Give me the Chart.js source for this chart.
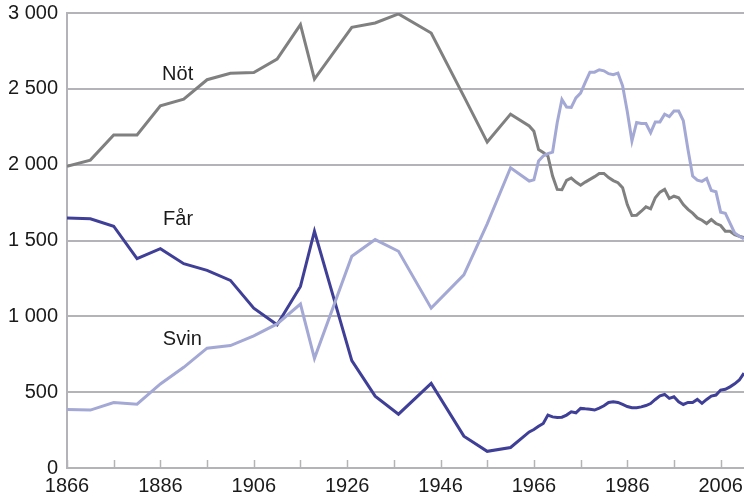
<!DOCTYPE html>
<html>
<head>
<meta charset="utf-8">
<script src="https://cdn.jsdelivr.net/npm/chart.js@4/dist/chart.umd.min.js"></script>
<style>
  html, body { margin: 0; padding: 0; background: #fff; }
</style>
</head>
<body>
<canvas id="chart" width="744" height="499"></canvas>
<script>
// Antal djur (tusental) – år
const years = [
  1866, 1871, 1876, 1881, 1886, 1891, 1896, 1901, 1906, 1911,
  1916, 1919, 1927, 1932, 1937, 1944, 1951, 1956, 1961, 1965,
  1966, 1967, 1968, 1969, 1970, 1971, 1972, 1973, 1974, 1975,
  1976, 1977, 1978, 1979, 1980, 1981, 1982, 1983, 1984, 1985,
  1986, 1987, 1988, 1989, 1990, 1991, 1992, 1993, 1994, 1995,
  1996, 1997, 1998, 1999, 2000, 2001, 2002, 2003, 2004, 2005,
  2006, 2007, 2008, 2009, 2010, 2011
];

const not = [
  1990, 2030, 2196, 2196, 2388, 2432, 2560, 2602, 2608, 2696,
  2923, 2564, 2906, 2934, 2994, 2868, 2450, 2149, 2333, 2255,
  2220, 2100, 2080, 2057, 1925, 1837, 1835, 1896, 1912, 1885,
  1865, 1885, 1903, 1921, 1942, 1942, 1915, 1895, 1881, 1848,
  1737, 1665, 1667, 1693, 1722, 1709, 1782, 1819, 1837, 1777,
  1792, 1782, 1737, 1705, 1680, 1649, 1634, 1612, 1638, 1612,
  1599, 1561, 1561, 1539, 1528, 1520
];

const far = [
  1649, 1643, 1594, 1380, 1446, 1347, 1303, 1237, 1054, 944,
  1197, 1561, 708, 474, 355, 558, 210, 110, 135, 238,
  254, 275, 294, 349, 337, 333, 335, 349, 370, 364,
  393, 390, 388, 382, 395, 410, 432, 437, 432, 419,
  405, 397, 398, 403, 412, 425, 452, 476, 485, 459,
  470, 437, 419, 432, 432, 452, 426, 452, 474, 481,
  514, 519, 535, 555, 580, 625
];

const svin = [
  386, 382, 432, 421, 554, 664, 790, 807, 871, 950,
  1081, 723, 1396, 1506, 1429, 1054, 1274, 1610, 1980, 1892,
  1900, 2024, 2057, 2073, 2083, 2278, 2430, 2380, 2378, 2440,
  2472, 2542, 2610, 2610, 2626, 2619, 2600, 2593, 2604, 2520,
  2350, 2156, 2278, 2271, 2271, 2211, 2282, 2282, 2333, 2317,
  2354, 2354, 2290, 2100, 1925, 1898, 1890, 1909, 1830, 1821,
  1687, 1680, 1615, 1550, 1528, 1511
];

// skalstreck var tionde år, etikett var tjugonde
const xTickYears = [1866, 1876, 1886, 1896, 1906, 1916, 1926, 1936, 1946, 1956, 1966, 1976, 1986, 1996, 2006];
const xLabelYears = [1866, 1886, 1906, 1926, 1946, 1966, 1986, 2006];

const AXIS = '#b4b4b8';
const FONT = '"Liberation Sans", Arial, sans-serif';

const toPoints = vals => vals.map((v, i) => ({ x: years[i], y: v }));

const fmt = v => v >= 1000
  ? Math.floor(v / 1000) + ' ' + String(v % 1000).padStart(3, '0')
  : String(v);

// uppåtriktade skalstreck och serienamn
const decor = {
  id: 'decor',
  afterDatasetsDraw(chart) {
    const { ctx, scales: { x, y } } = chart;
    ctx.save();
    ctx.strokeStyle = AXIS;
    ctx.lineWidth = 1.5;
    xTickYears.forEach(v => {
      const px = Math.round(x.getPixelForValue(v)) + 0.5;
      ctx.beginPath();
      ctx.moveTo(px, y.bottom);
      ctx.lineTo(px, y.bottom - 8);
      ctx.stroke();
    });
    ctx.fillStyle = '#1a1a1a';
    ctx.font = '20px ' + FONT;
    ctx.textAlign = 'center';
    ctx.textBaseline = 'middle';
    const names = [['Nöt', 1889.7, 2597], ['Får', 1889.8, 1641], ['Svin', 1890.7, 847]];
    names.forEach(([t, yr, val]) => {
      ctx.fillText(t, x.getPixelForValue(yr), y.getPixelForValue(val));
    });
    ctx.restore();
  }
};

const line = (label, vals, color) => ({
  label,
  data: toPoints(vals),
  borderColor: color,
  backgroundColor: color,
  borderWidth: 3,
  pointRadius: 0,
  tension: 0,
  fill: false,
});

new Chart(document.getElementById('chart'), {
  type: 'line',
  data: {
    datasets: [
      line('Svin', svin, '#a4a8d4'),
      line('Nöt', not, '#808080'),
      line('Får', far, '#3f3f98'),
    ],
  },
  options: {
    responsive: false,
    animation: false,
    layout: { padding: { top: 13, right: 0, left: 0, bottom: 0 } },
    plugins: {
      legend: { display: false },
      tooltip: { enabled: false },
    },
    scales: {
      x: {
        type: 'linear',
        min: 1866,
        max: 2011,
        afterFit(s) {
          s.height = 31;
          s.paddingLeft = 0;
          s.paddingRight = 0;
        },
        afterBuildTicks(s) { s.ticks = xLabelYears.map(v => ({ value: v })); },
        grid: { display: false, drawTicks: false },
        border: { display: true, color: AXIS, width: 2 },
        ticks: {
          autoSkip: false,
          maxRotation: 0,
          padding: 6,
          color: '#1a1a1a',
          font: { family: FONT, size: 20 },
          callback: v => String(v),
        },
      },
      y: {
        min: 0,
        max: 3000,
        afterFit(s) {
          s.width = 67;
          s.paddingTop = 0;
          s.paddingBottom = 0;
        },
        grid: { color: AXIS, lineWidth: 2, drawTicks: false },
        border: { display: true, color: AXIS, width: 2 },
        ticks: {
          stepSize: 500,
          padding: 9,
          color: '#1a1a1a',
          font: { family: FONT, size: 20 },
          callback: v => fmt(v),
        },
      },
    },
  },
  plugins: [decor],
});
</script>
